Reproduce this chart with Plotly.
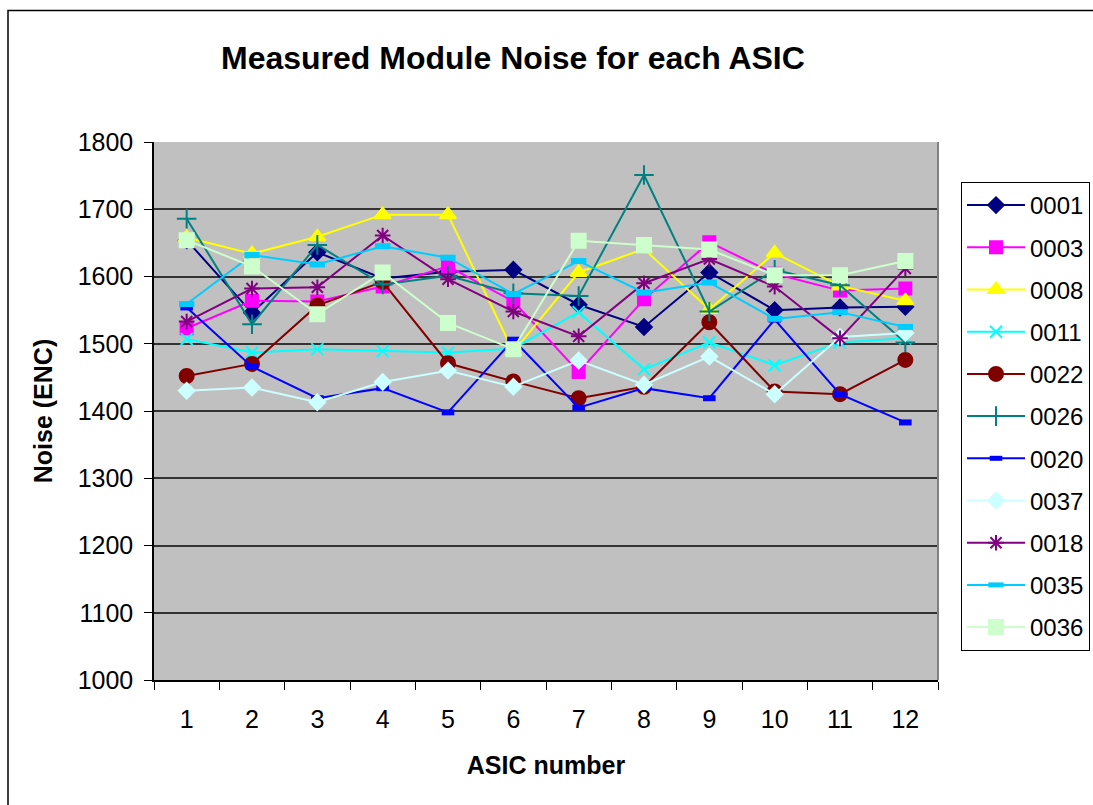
import plotly.graph_objects as go

asic = ["1", "2", "3", "4", "5", "6", "7", "8", "9", "10", "11", "12"]

s0001 = [1654, 1546, 1636, 1597, 1607, 1610, 1558, 1525, 1606, 1550, 1554, 1555]
s0003 = [1523, 1564, 1563, 1585, 1615, 1563, 1458, 1566, 1651, 1604, 1579, 1582]
s0008 = [1658, 1634, 1659, 1692, 1692, 1488, 1606, 1641, 1551, 1635, 1586, 1564]
s0011 = [1507, 1487, 1492, 1489, 1487, 1493, 1547, 1462, 1502, 1468, 1502, 1508]
s0022 = [1452, 1470, 1557, 1592, 1471, 1444, 1419, 1436, 1532, 1429, 1425, 1476]
s0026 = [1686, 1529, 1647, 1588, 1601, 1575, 1571, 1751, 1548, 1610, 1587, 1502]
s0020 = [1554, 1466, 1419, 1434, 1398, 1506, 1405, 1434, 1419, 1536, 1425, 1383]
s0037 = [1430, 1435, 1413, 1443, 1460, 1436, 1475, 1439, 1481, 1425, 1510, 1516]
s0018 = [1533, 1582, 1584, 1661, 1596, 1548, 1511, 1590, 1626, 1585, 1508, 1612]
s0035 = [1559, 1632, 1618, 1645, 1628, 1574, 1623, 1576, 1591, 1537, 1547, 1525]
s0036 = [1654, 1615, 1544, 1606, 1531, 1492, 1653, 1647, 1640, 1602, 1602, 1623]

series = [
    ("0001", s0001, "#000080", "diamond", 12),
    ("0003", s0003, "#FF00FF", "square", 12),
    ("0008", s0008, "#FFFF00", "triangle-up", 14),
    ("0011", s0011, "#00FFFF", "x-thin-open", 12),
    ("0022", s0022, "#800000", "circle", 14),
    ("0026", s0026, "#008080", "cross-thin-open", 14),
    ("0020", s0020, "#0000FF", "line-ew-open", 9),
    ("0037", s0037, "#CCFFFF", "diamond", 12),
    ("0018", s0018, "#800080", "asterisk-open", 13),
    ("0035", s0035, "#00CCFF", "line-ew-open", 11),
    ("0036", s0036, "#CCFFCC", "square", 14),
]

fig = go.Figure()
for name, vals, col, sym, sz in series:
    mline = dict(color=col, width=2)
    if sym == "line-ew-open":
        mline = dict(color=col, width=6)
    fig.add_trace(go.Scatter(
        x=asic, y=vals, name=name, mode="lines+markers",
        line=dict(color=col, width=2),
        marker=dict(symbol=sym, size=sz, color=col, line=mline),
        legendgroup=name,
    ))

FONT = "Liberation Sans, Arial, sans-serif"

fig.update_layout(
    width=1093, height=805,
    margin=dict(l=154, r=155, t=142, b=125, autoexpand=False),
    paper_bgcolor="white",
    plot_bgcolor="#C0C0C0",
    font=dict(family=FONT, size=24, color="black"),
    showlegend=True,
    legend=dict(
        x=(961 - 154) / 784, y=(680 - 182) / 538, xanchor="left", yanchor="top",
        bgcolor="white", bordercolor="black", borderwidth=1,
        font=dict(size=24), tracegroupgap=8, itemwidth=58,
    ),
    annotations=[
        dict(text="<b>Measured Module Noise for each ASIC</b>", xref="paper", yref="paper",
             x=(513 - 154) / 784, y=(680 - 58) / 538, xanchor="center", yanchor="middle",
             showarrow=False, font=dict(size=32)),
    ],
    shapes=[
        dict(type="rect", xref="paper", yref="paper",
             x0=(8 - 154) / 784, x1=(1200 - 154) / 784,
             y0=(680 - 900) / 538, y1=(680 - 10.5) / 538,
             line=dict(color="black", width=1.5), fillcolor="rgba(0,0,0,0)", layer="below"),
        dict(type="line", xref="paper", yref="paper", x0=1, x1=1, y0=0, y1=1,
             line=dict(color="#808080", width=2)),
    ],
    xaxis=dict(
        type="category", range=[-0.5, 11.5], tickson="boundaries", ticks="outside", ticklen=8,
        tickcolor="black", showline=True, linecolor="black", linewidth=1.5,
        showgrid=False, zeroline=False, ticklabelstandoff=16,
        title=dict(text="<b>ASIC number</b>", font=dict(size=25), standoff=25),
        tickfont=dict(size=25),
    ),
    yaxis=dict(
        range=[1000, 1800], dtick=100, ticks="outside", ticklen=8,
        tickcolor="black", showline=True, linecolor="black", linewidth=1.5,
        showgrid=True, gridcolor="#333333", gridwidth=1.5, zeroline=False,
        ticklabelstandoff=6,
        title=dict(text="<b>Noise (ENC)</b>", font=dict(size=25), standoff=18),
        tickfont=dict(size=25),
    ),
)

fig.write_html("out.html")
